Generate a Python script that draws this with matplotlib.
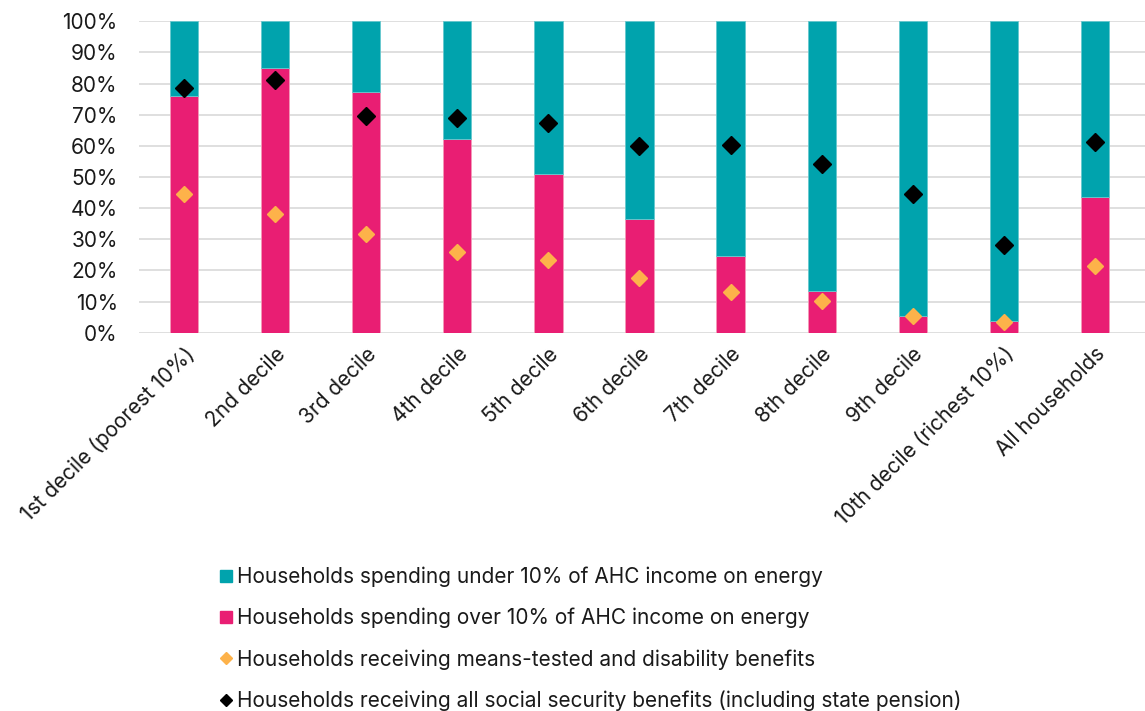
import matplotlib
matplotlib.use('Agg')
import matplotlib.pyplot as plt
import numpy as np
from matplotlib.lines import Line2D
from matplotlib.ticker import PercentFormatter

plt.rcParams['font.family'] = ['Inter', 'DejaVu Sans']

categories = ['1st decile (poorest 10%)', '2nd decile', '3rd decile', '4th decile',
              '5th decile', '6th decile', '7th decile', '8th decile', '9th decile',
              '10th decile (richest 10%)', 'All households']

# share of households spending over 10% of AHC income on energy (%)
overTen = [76.0, 85.0, 77.2, 62.2, 50.9, 36.6, 24.6, 13.4, 5.5, 3.8, 43.5]
underTen = [100 - v for v in overTen]

meansTested = [44.6, 38.0, 31.8, 26.0, 23.5, 17.5, 13.1, 10.1, 5.4, 3.3, 21.4]
allBenefits = [78.6, 81.1, 69.6, 69.0, 67.5, 59.9, 60.4, 54.2, 44.7, 28.1, 61.3]

teal = '#00A3AD'
pink = '#E91E73'
orange = '#FDB24A'

fig = plt.figure(figsize=(11.45, 7.11), dpi=100)
ax = fig.add_axes([0.121, 0.532, 0.879, 0.438])

x = np.arange(len(categories))
width = 0.31

ax.bar(x, overTen, width, color=pink, edgecolor='#f39ab8', linewidth=0.6, zorder=2)
ax.bar(x, underTen, width, bottom=overTen, color=teal, edgecolor='#66c8ce', linewidth=0.6, zorder=2)
ax.plot(x, meansTested, linestyle='none', marker='D', markersize=8, color=orange, zorder=3)
ax.plot(x, allBenefits, linestyle='none', marker='D', markersize=9, color='black', zorder=3)

ax.set_xlim(-0.5, len(categories) - 0.45)
ax.set_ylim(0, 100)
ax.set_yticks(np.arange(0, 101, 10))
ax.yaxis.set_major_formatter(PercentFormatter(decimals=0))
ax.yaxis.grid(True, color='#d9d9d9', linewidth=1.2, zorder=0)
ax.set_axisbelow(True)
for side in ['top', 'right', 'left', 'bottom']:
    ax.spines[side].set_visible(False)
ax.tick_params(axis='both', length=0, labelsize=15, colors='#1a1a1a')
ax.tick_params(axis='y', pad=15)
ax.tick_params(axis='x', pad=8)
ax.set_xticks(x)
ax.set_xticklabels(categories, rotation=45, ha='right', rotation_mode='anchor')

handles = [
    Line2D([], [], linestyle='none', marker='s', markersize=8, color=teal),
    Line2D([], [], linestyle='none', marker='s', markersize=8, color=pink),
    Line2D([], [], linestyle='none', marker='D', markersize=6, color=orange),
    Line2D([], [], linestyle='none', marker='D', markersize=6, color='black'),
]
labels = [
    'Households spending under 10% of AHC income on energy',
    'Households spending over 10% of AHC income on energy',
    'Households receiving means-tested and disability benefits',
    'Households receiving all social security benefits (including state pension)',
]
fig.legend(handles, labels, loc='upper left', bbox_to_anchor=(0.183, 0.218),
           frameon=False, fontsize=15, handlelength=0.55, handletextpad=0.25,
           labelspacing=1.0, borderpad=0, labelcolor='#1a1a1a')

fig.savefig('out.png', dpi=100)
